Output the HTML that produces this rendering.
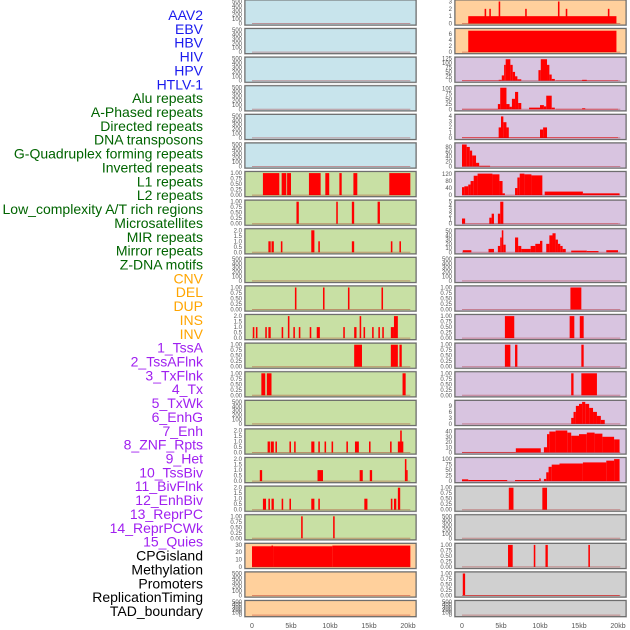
<!DOCTYPE html>
<html><head><meta charset="utf-8"><style>
body{margin:0;background:#fff;}
svg{display:block;font-family:"Liberation Sans",sans-serif;}
</style></head><body>
<svg id="chart" width="630" height="630" viewBox="0 0 630 630"></svg>
<script>
const labels=["AAV2","EBV","HBV","HIV","HPV","HTLV-1","Alu repeats","A-Phased repeats","Directed repeats","DNA transposons","G-Quadruplex forming repeats","Inverted repeats","L1 repeats","L2 repeats","Low_complexity A/T rich regions","Microsatellites","MIR repeats","Mirror repeats","Z-DNA motifs","CNV","DEL","DUP","INS","INV","1_TssA","2_TssAFlnk","3_TxFlnk","4_Tx","5_TxWk","6_EnhG","7_Enh","8_ZNF_Rpts","9_Het","10_TssBiv","11_BivFlnk","12_EnhBiv","13_ReprPC","14_ReprPCWk","15_Quies","CPGisland","Methylation","Promoters","ReplicationTiming","TAD_boundary"];
const xTicks=[0,5,10,15,20];
const xTickLabels=["0","5kb","10kb","15kb","20kb"];
const E=["0","100","200","300","400","500"];
const P1=["0.00","0.25","0.50","0.75","1.00"];
const P2=["0.0","0.5","1.0","1.5","2.0"];
const leftMax=[500,500,500,500,500,500,1,1,2,500,1,2,1,1,500,2,2,2,1,32,500,500];
const leftTicks=[E,E,E,E,E,E,P1,P1,P2,E,P1,P2,P1,P1,E,P2,P2,P2,P1,["0","10","20","30"],E,E];
const leftBg=["#c8e4ec","#c8e4ec","#c8e4ec","#c8e4ec","#c8e4ec","#c8e4ec","#c8e0a4","#c8e0a4","#c8e0a4","#c8e0a4","#c8e0a4","#c8e0a4","#c8e0a4","#c8e0a4","#c8e0a4","#c8e0a4","#c8e0a4","#c8e0a4","#c8e0a4","#ffd09c","#ffd09c","#ffd09c"];
const leftSegs=[[],[],[],[],[],[],
[[1.4,3.5,1],[3.8,4.4,1],[4.5,5.0,1],[7.3,8.8,1],[9.4,9.9,1],[11.2,11.5,1],[13.0,13.5,1],[17.6,20.3,1]],
[[5.7,6.0,1],[10.8,11.0,1],[12.8,13.1,1],[16.1,16.4,1]],
[[2.1,2.4,1],[2.5,2.8,1],[3.7,3.9,1],[7.6,8.0,2],[8.5,8.7,1],[12.8,13.1,1],[17.8,18.0,1],[18.9,19.1,1]],
[],
[[5.5,5.7,1],[9.1,9.3,1],[12.3,12.5,1],[16.6,16.8,1]],
[[0.1,0.3,1],[0.5,0.7,1],[1.7,1.9,1],[2.1,2.4,1],[3.8,4.0,1],[4.6,4.8,2],[5.3,5.5,1],[6.0,6.2,1],[7.4,7.6,1],[8.3,8.7,1],[11.7,11.9,1],[13.1,13.4,1],[13.8,14.0,2],[14.3,14.5,1],[15.4,15.6,1],[16.2,16.4,1],[16.7,16.9,1],[17.8,18.2,1],[18.2,18.7,2]],
[[13.1,14.1,1],[17.8,18.7,1],[18.9,19.2,1]],
[[1.2,1.7,1],[1.9,2.5,1],[19.3,19.7,1]],
[],
[[2.0,2.3,1],[2.4,2.8,1],[3.0,3.2,1],[4.8,5.0,1],[5.4,5.6,1],[7.6,8.0,1],[8.5,8.7,1],[9.3,9.5,1],[10.2,10.4,1],[12.1,12.3,1],[13.2,13.7,1],[15.0,15.2,1],[17.7,17.9,1],[18.7,19.4,1],[19.0,19.2,2]],
[[1.0,1.3,1],[8.4,9.1,1],[13.8,14.2,1],[15.1,15.4,1],[19.6,19.8,2],[19.8,19.9,1]],
[[1.4,1.8,1],[2.1,2.3,1],[2.5,2.8,1],[3.8,4.0,1],[4.8,5.0,1],[7.6,8.0,1],[8.5,8.7,1],[14.4,14.8,1],[17.8,18.0,1],[18.2,18.5,1],[18.7,19.0,2]],
[[6.3,6.5,1],[10.4,10.6,1]],
[[0,2.5,30],[2.5,2.7,31],[2.7,10.3,30],[10.3,20.3,31]],
[],[]];
const rightMax=[3,7.2,125,105,4.2,90,125,5.5,52,500,1,1,1,1,11,42,100,1,500,1,1,500];
const rightTicks=[["0","1","2","3"],["0","2","4","6"],["0","25","50","75","100","125"],["0","25","50","75","100"],["0","1","2","3","4"],["0","20","40","60","80"],["0","40","80","120"],["0","1","2","3","4","5"],["0","10","20","30","40","50"],E,P1,P1,P1,P1,["0","3","6","9"],["0","10","20","30","40"],["0","25","50","75","100"],P1,E,P1,P1,E];
const rightTickVals=[null,[0,2,4,6],null,[0,25,50,75,100],null,[0,20,40,60,80],[0,40,80,120],null,[0,10,20,30,40,50],null,null,null,null,null,[0,3,6,9],[0,10,20,30,40],[0,25,50,75,100],null,null,null,null,null];
const rightBg=["#ffd09c","#ffd09c","#d8c4e0","#d8c4e0","#d8c4e0","#d8c4e0","#d8c4e0","#d8c4e0","#d8c4e0","#d8c4e0","#d8c4e0","#d8c4e0","#d8c4e0","#d8c4e0","#d8c4e0","#d8c4e0","#d8c4e0","#d0d0d0","#d0d0d0","#d0d0d0","#d0d0d0","#d0d0d0"];
const rightSegs=[
[[0.8,19.8,1],[2.9,3.1,2],[3.5,3.7,2],[4.7,4.9,3],[8.1,8.3,2],[12.3,12.5,3],[13.3,13.5,2],[18.7,18.9,2]],
[[0.8,19.8,7]],
[[0,4.7,2],[4.7,5.1,5],[5.1,5.4,30],[5.4,5.6,90],[5.6,6.2,122],[6.2,6.5,90],[6.5,6.8,50],[6.8,7.1,25],[7.1,7.6,8],[9.8,10.1,60],[10.1,10.9,122],[10.9,11.2,90],[11.2,11.5,35],[11.5,11.9,10],[12,20,2],[15.4,16,5]],
[[0,4.6,2],[4.6,4.9,25],[4.9,5.7,103],[5.7,6.1,25],[6.1,6.4,12],[6.4,6.8,50],[6.8,7.2,83],[7.2,7.6,30],[8.6,10,8],[10,10.5,20],[10.5,10.8,14],[10.8,11.5,65],[11.5,11.9,8],[12,20,2],[15.4,15.8,5]],
[[0,20,0.1],[4.7,5.0,2],[5.0,5.3,4.1],[5.3,5.7,3],[5.7,6.0,2],[10.0,10.4,1.6],[10.4,10.9,2]],
[[0,0.6,90],[0.6,1.0,80],[1.0,1.3,65],[1.3,1.8,45],[1.8,2.2,15],[2.2,3.6,3]],
[[0,0.3,45],[0.3,0.8,50],[0.8,1.1,60],[1.1,1.5,80],[1.5,2.0,110],[2.0,3.9,122],[3.9,4.8,118],[4.8,5.2,80],[5.2,5.5,10],[6.8,7.1,40],[7.1,7.4,100],[7.4,8.0,122],[8.0,8.9,118],[8.9,10.3,112],[10.6,15.5,20],[15.5,20.2,10]],
[[0,0.4,1.3],[0.4,20,0.05],[3.5,3.8,1.5],[3.8,4.1,2.5],[4.6,4.9,2.5],[4.9,5.3,5.5]],
[[0.1,1.2,5],[3.4,4.1,8],[4.6,4.9,15],[4.9,5.1,35],[5.1,5.3,52],[5.3,5.6,18],[6.8,7.2,35],[7.2,7.6,15],[7.6,8.8,8],[8.8,9.4,15],[9.4,10,20],[10,10.3,27],[10.8,11.2,20],[11.2,11.6,40],[11.6,12,45],[12,12.3,30],[12.3,12.6,20],[12.6,12.9,15],[12.9,13.3,8],[14,16,4],[16,17.5,3],[18.5,20,5]],
[],
[[13.9,15.3,1]],
[[5.5,6.7,1],[13.8,14.4,1],[15.1,15.6,1]],
[[5.5,6.2,1],[6.8,7.1,1],[15.3,15.6,1]],
[[14.0,14.3,1],[15.3,17.3,1]],
[[14.0,14.3,3],[14.3,14.6,6],[14.6,15.0,9],[15.0,15.4,10],[15.4,15.8,11],[15.8,16.3,10],[16.3,16.8,8],[16.8,17.3,6],[17.3,17.8,4],[17.8,18.3,2]],
[[0,6.9,1],[6.9,10.1,8],[10.5,10.9,10],[10.9,11.2,35],[11.2,12.0,40],[12.0,13.5,42],[13.5,14.0,38],[14.0,15.0,32],[15.0,16.0,35],[16.0,17.0,38],[17.0,18.0,36],[18.0,19.5,30],[19.5,20.2,25]],
[[0,0.8,8],[0.8,5.8,5],[6.8,9.9,5],[9.9,10.1,12],[10.5,10.8,10],[10.8,11.1,40],[11.1,11.5,65],[11.5,12.5,75],[12.5,15.5,80],[15.5,18.5,85],[18.5,19.5,93],[19.5,20.2,100]],
[[6.0,6.6,1],[10.3,10.9,1]],
[],
[[5.9,6.5,1],[9.2,9.4,1],[10.7,11.0,1],[16.2,16.4,1]],
[[0.1,0.4,1],[0.4,20.2,0.02]],
[]];
const NS="http://www.w3.org/2000/svg";
const svg=document.getElementById('chart');
function mk(t,a,p){const e=document.createElementNS(NS,t);for(const k in a)e.setAttribute(k,a[k]);(p||svg).appendChild(e);return e;}
const groupColors=[[0,6,"#1a1aee"],[6,19,"#006400"],[19,24,"#ffa500"],[24,39,"#a020f0"],[39,44,"#000000"]];
labels.forEach((s,i)=>{let c="#000";groupColors.forEach(g=>{if(i>=g[0]&&i<g[1])c=g[2];});
 const t=mk('text',{x:203,y:20+i*13.86,'text-anchor':'end','font-size':14,fill:c});t.textContent=s;
 
 });
function panel(side,i,bg,ymax,ticks,tvals,segs){
 const px=side==='left'?245:455,w=171,top=i*28.6,h=i===21?16:25;
 const g=mk('g',{});
 
 
 mk('rect',{x:px-0.5,y:top-0.5,width:w+1,height:h+1,fill:'none',stroke:'#bbb','stroke-width':1},g);
 mk('rect',{x:px,y:top,width:w,height:h,fill:bg,stroke:'#666','stroke-width':1},g);
 const y0=top+h-1.5,y1=top+1.5;
 const xs=v=>px+7+v*7.8, ys=v=>y0-(v/ymax)*(y0-y1);
 segs.forEach(s=>{const r=mk('rect',{x:xs(s[0]),y:ys(s[2]),width:Math.max(1.2,xs(s[1])-xs(s[0])),height:y0-ys(s[2]),fill:'#ff0000'},g);
  
  });
 mk('line',{x1:xs(0),x2:xs(20.3),y1:y0,y2:y0,stroke:'rgba(160,0,0,0.35)','stroke-width':1},g);
 ticks.forEach((t,k)=>{const v=tvals?tvals[k]:(k/(ticks.length-1))*ymax;
  const tt=mk('text',{x:px-3,y:ys(v)+2,'text-anchor':'end','font-size':6,fill:'#555'},g);tt.textContent=t;
  
  });
}
for(let i=0;i<22;i++){
 panel('left',i,leftBg[i],leftMax[i],leftTicks[i],null,leftSegs[i]);
 panel('right',i,rightBg[i],rightMax[i],rightTicks[i],rightTickVals[i],rightSegs[i]);
}
[252,462].forEach((x0,si)=>{xTicks.forEach((v,k)=>{const t=mk('text',{x:x0+v*7.8,y:628,'text-anchor':'middle','font-size':7,fill:'#555'});t.textContent=xTickLabels[k];
 
 });});
</script>
</body></html>
